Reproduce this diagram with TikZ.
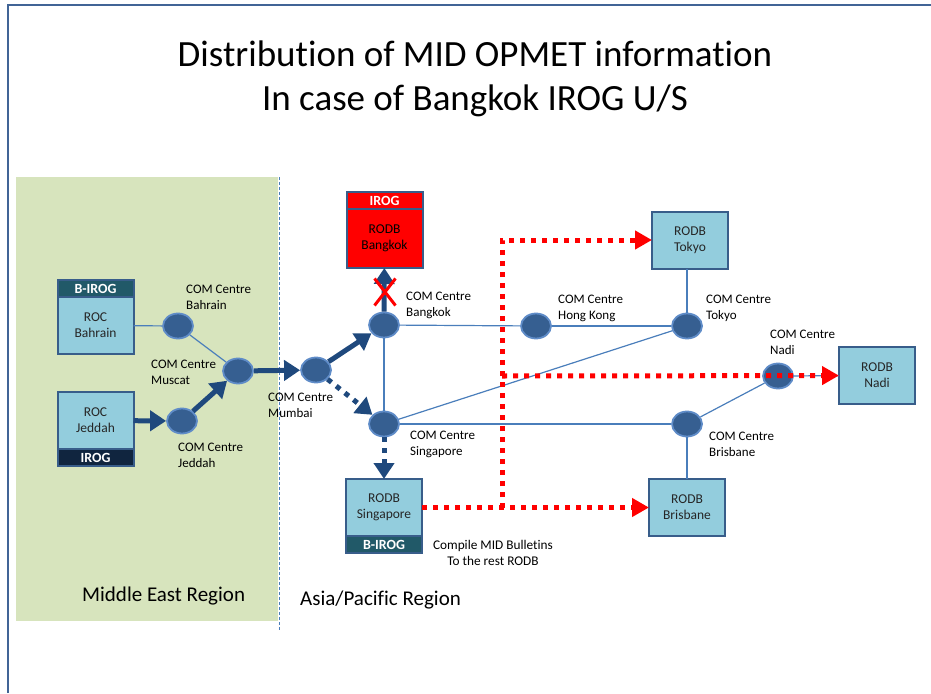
\documentclass[tikz,border=0pt]{standalone}
\usepackage{fontspec}
\setmainfont[Ligatures=NoCommon]{Carlito}
\usetikzlibrary{arrows.meta,shapes,positioning}

\definecolor{boxfill}{RGB}{147,205,221}
\definecolor{boxedge}{RGB}{56,93,138}
\definecolor{comfill}{RGB}{54,95,145}
\definecolor{comedge}{RGB}{95,140,200}
\definecolor{linkblue}{RGB}{74,126,187}
\definecolor{feedblue}{RGB}{31,73,125}
\definecolor{tealband}{RGB}{33,89,104}
\definecolor{navyband}{RGB}{16,37,63}
\definecolor{regiongreen}{RGB}{215,228,189}
\definecolor{framecol}{RGB}{65,100,150}

\tikzset{
  com/.style={ellipse,draw=comedge,fill=comfill,line width=1.8pt,minimum width=30pt,minimum height=25pt,inner sep=0pt},
  rodb/.style={rectangle,draw=boxedge,fill=boxfill,line width=2pt,outer sep=0pt,minimum width=76pt,minimum height=57pt,align=center,text=black!85,font=\fontsize{13.5}{16}\selectfont},
  band/.style={rectangle,draw=boxedge,line width=2pt,outer sep=0pt,minimum width=76pt,minimum height=17pt,inner sep=0pt,text=white,font=\bfseries\fontsize{14}{14}\selectfont},
  tag/.style={anchor=west,align=left,inner sep=0pt,font=\fontsize{13}{16}\selectfont},
  link/.style={draw=linkblue,line width=1.2pt},
  feed/.style={draw=feedblue,line width=5pt,-{Triangle[length=16pt,width=20pt]}},
  feedlost/.style={feed,dash pattern=on 5pt off 6pt},
  relay/.style={draw=red,line width=5pt,dash pattern=on 5pt off 6pt,-{Triangle[length=17pt,width=18pt]}}
}

\begin{document}
\begin{tikzpicture}[x=1pt,y=-1pt]
\useasboundingbox (0,0) rectangle (931,693);

\draw [framecol,line width=2.5pt] (8,693) -- (8,5) -- (931,5);
\fill [regiongreen] (16,177) rectangle (278,621);
\draw [linkblue,line width=0.8pt,dash pattern=on 3pt off 2pt] (279,177) -- (279,630);

\node [align=center,font=\fontsize{37}{44}\selectfont] (title) at (475,79) {Distribution of MID OPMET information\\In case of Bangkok IROG U/S};
\node [anchor=west,inner sep=0pt,font=\fontsize{21}{21}\selectfont] (mer) at (82,596) {Middle East Region};
\node [anchor=west,inner sep=0pt,font=\fontsize{21}{21}\selectfont] (apr) at (300,600) {Asia/Pacific Region};

\node [rodb] (bhbox) at (95.5,325.5) {ROC\\Bahrain};
\node [band,fill=tealband,above=0pt of bhbox] (bhband) {B-IROG};
\node [rodb] (jdbox) at (95.5,420.5) {ROC\\Jeddah};
\node [band,fill=navyband,below=0pt of jdbox] (jdband) {IROG};
\node [rodb,fill=red,minimum height=59pt,text=black] (bkbox) at (384.5,238.5) {RODB\\Bangkok};
\node [band,fill=red,above=0pt of bkbox] (bkband) {IROG};
\node [rodb] (sgbox) at (384,507.5) {RODB\\Singapore};
\node [band,fill=tealband,below=0pt of sgbox] (sgband) {B-IROG};
\node [rodb] (tkbox) at (690,240) {RODB\\Tokyo};
\node [rodb] (ndbox) at (877,375.5) {RODB\\Nadi};
\node [rodb] (bnbox) at (687,507.5) {RODB\\Brisbane};

\node [com] (bhcom) at (178,326) {};
\node [com] (mscom) at (238,371) {};
\node [com] (jdcom) at (182,421) {};
\node [com] (mbcom) at (316,370) {};
\node [com] (bkcom) at (384,325) {};
\node [com] (hkcom) at (536,326) {};
\node [com] (tkcom) at (687,326) {};
\node [com] (ndcom) at (778,376) {};
\node [com] (sgcom) at (384,424) {};
\node [com] (bncom) at (687,424) {};

\node [tag] at (186,297) {COM Centre\\Bahrain};
\node [tag] at (151,372) {COM Centre\\Muscat};
\node [tag] at (178,455) {COM Centre\\Jeddah};
\node [tag] at (268,405) {COM Centre\\Mumbai};
\node [tag] at (406,305) {COM Centre\\Bangkok};
\node [tag] at (558,308) {COM Centre\\Hong Kong};
\node [tag] at (706,308) {COM Centre\\Tokyo};
\node [tag] at (770,342) {COM Centre\\Nadi};
\node [tag] at (410,444) {COM Centre\\Singapore};
\node [tag] at (709,444) {COM Centre\\Brisbane};
\node [align=center,inner sep=0pt,font=\fontsize{13.3}{16}\selectfont] (note) at (493,553) {Compile MID Bulletins\\To the rest RODB};

\draw [link] (bhbox) -- (bhcom);
\draw [link] (bhcom) -- (mscom);
\draw [link] (bkcom) -- (hkcom);
\draw [link] (hkcom) -- (tkcom);
\draw [link] (bkcom) -- (sgcom);
\draw [link] (sgcom) -- (tkcom);
\draw [link] (sgcom) -- (bncom);
\draw [link] (bncom) -- (ndcom);
\draw [link] (tkcom) -- (tkcom |- tkbox.south);
\draw [link] (bncom) -- (bnbox);
\draw [link] (ndcom) -- (ndbox);

\draw [feed] (jdbox) -- (jdcom);
\draw [feed] (jdcom) -- (mscom);
\draw [feed] (mscom) -- (mbcom);
\draw [feed] (mbcom) -- (bkcom);
\draw [feed] (bkcom) -- (bkbox);
\draw [feedlost] (mbcom) -- (sgcom);
\draw [feedlost] (sgcom) -- (sgbox);
\node [cross out,draw=red,line width=3pt,minimum width=18pt,minimum height=24pt,inner sep=0pt] (nolink) at (385,292) {};

\coordinate (split) at (502,508);
\coordinate (turn) at (split |- tkbox.west);
\coordinate (branch) at (502,376);
\draw [relay] (sgbox) -- (bnbox);
\draw [relay] (split) -- (turn) -- (tkbox);
\draw [relay] (branch) -- (ndbox);

\end{tikzpicture}
\end{document}
